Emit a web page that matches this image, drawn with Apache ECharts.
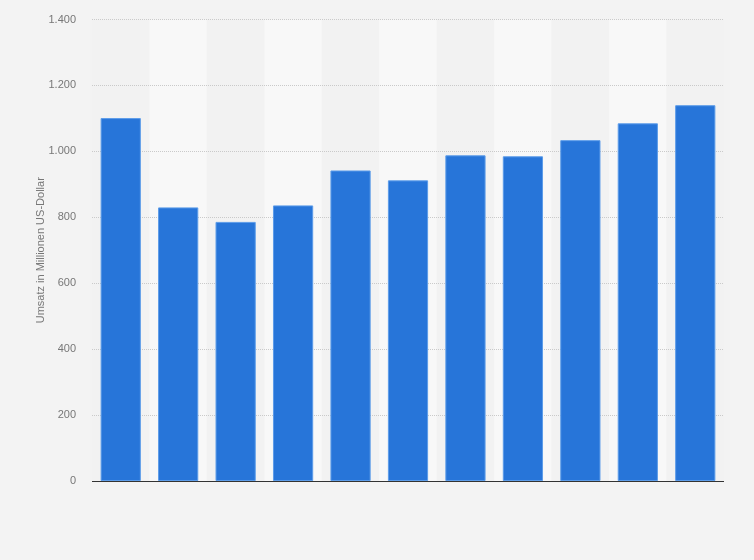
<!DOCTYPE html>
<html>
<head>
<meta charset="utf-8">
<script src="https://cdn.jsdelivr.net/npm/echarts@6/dist/echarts.min.js"></script>
<style>
html,body{margin:0;padding:0;background:#f4f4f4;}
#chart{width:754px;height:560px;}
</style>
</head>
<body>
<div id="chart"></div>
<script>
var categories = ['1','2','3','4','5','6','7','8','9','10','11'];
var revenue = [1101, 830, 786, 836, 942, 912, 988, 985, 1034, 1085, 1140];
var yAxisName = 'Umsatz in Millionen US-Dollar';

function fmt(v){
  return String(v).replace(/\B(?=(\d{3})+(?!\d))/g, '.');
}

var chart = echarts.init(document.getElementById('chart'));
chart.setOption({
  backgroundColor: '#f3f3f3',
  animation: false,
  grid: {left: 92, right: 30, top: 19.5, bottom: 79},
  xAxis: {
    type: 'category',
    z: 0,
    data: categories,
    axisLabel: {show: false},
    axisTick: {show: false},
    axisLine: {show: false},
    splitArea: {show: true, areaStyle: {color: ['#f2f2f2', '#f8f8f8']}}
  },
  yAxis: {
    type: 'value',
    z: 1,
    min: 0,
    max: 1400,
    interval: 200,
    name: yAxisName,
    nameLocation: 'middle',
    nameGap: 46,
    nameMoveOverlap: false,
    nameTextStyle: {color: '#777', fontSize: 11, fontFamily: 'Liberation Sans, Arial, sans-serif'},
    axisLine: {show: false},
    axisTick: {show: false},
    axisLabel: {color: '#777', fontSize: 11, margin: 16, fontFamily: 'Liberation Sans, Arial, sans-serif', formatter: fmt},
    splitLine: {show: true, lineStyle: {color: ['#333', '#cacaca', '#cacaca', '#cacaca', '#cacaca', '#cacaca', '#cacaca', '#cacaca'], type: 'dotted', width: 1}}
  },
  series: [{
    type: 'bar',
    z: 2,
    data: revenue,
    barWidth: '70%',
    itemStyle: {color: '#2775d9', borderColor: '#5c9ce9', borderWidth: 1},
    markLine: {
      silent: true,
      symbol: 'none',
      label: {show: false},
      lineStyle: {color: '#333', type: 'solid', width: 1},
      data: [{yAxis: 0}]
    }
  }]
});
</script>
</body>
</html>
